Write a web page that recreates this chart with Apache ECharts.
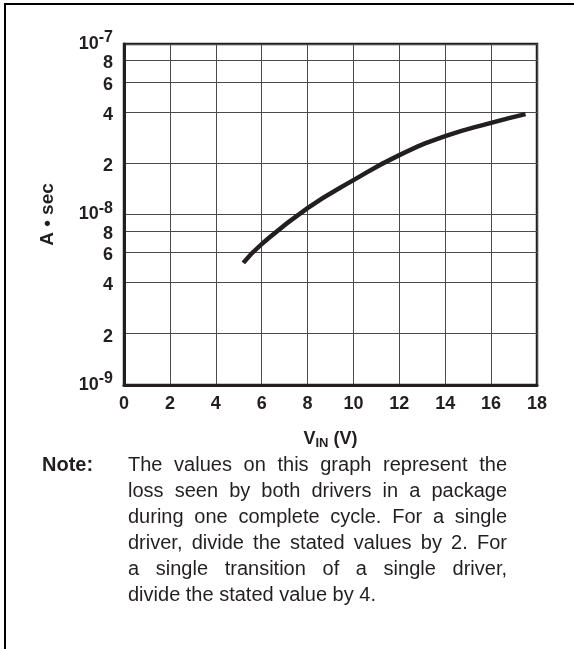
<!DOCTYPE html>
<html><head><meta charset="utf-8">
<script src="https://cdn.jsdelivr.net/npm/echarts@6/dist/echarts.min.js"></script>
<style>html,body{margin:0;padding:0;background:#fff}#c{width:574px;height:649px}</style>
</head><body><div id="c"></div>
<script>
// ---- data ----
const vin = [5.2, 6, 8, 10, 12, 14, 16, 17.5];
const loss = [5.2e-9, 6.7e-9, 1.09e-8, 1.59e-8, 2.23e-8, 2.88e-8, 3.45e-8, 3.88e-8];
const xTicks = [0, 2, 4, 6, 8, 10, 12, 14, 16, 18];
const yTicks = [1e-9, 2e-9, 4e-9, 6e-9, 8e-9, 1e-8, 2e-8, 4e-8, 6e-8, 8e-8, 1e-7];
const yTickLabels = ['10|-9', '2', '4', '6', '8', '10|-8', '2', '4', '6', '8', '10|-7'];
const noteLabel = 'Note:';
const noteLines = [
  'The values on this graph represent the',
  'loss seen by both drivers in a package',
  'during one complete cycle. For a single',
  'driver, divide the stated values by 2. For',
  'a single transition of a single driver,',
  'divide the stated value by 4.'
];

const FONT = "'Liberation Sans', Arial, Helvetica, sans-serif";
const INK = '#231f20';

function yLabel(v) {
  let lv = v > 0 && v < 1 ? Math.log10(v) : v;
  let best = 0, bd = Infinity;
  yTicks.forEach((t, i) => { const d = Math.abs(Math.log10(t) - lv); if (d < bd) { bd = d; best = i; } });
  const s = yTickLabels[best];
  if (s.indexOf('|') >= 0) {
    const p = s.split('|');
    return '{b|' + p[0] + '}{s|' + p[1] + '}';
  }
  return '{n|' + s + '}';
}

const chart = echarts.init(document.getElementById('c'), null, { renderer: 'canvas' });

// justified note text via graphic elements
const cv = document.createElement('canvas').getContext('2d');
const noteSize = 20;
cv.font = noteSize + 'px ' + FONT;
const textLeft = 128, textRight = 507, lineY0 = 465, lineGap = 26;
const graphics = [];
noteLines.forEach((line, li) => {
  const words = line.split(' ');
  const widths = words.map(w => cv.measureText(w).width);
  const total = widths.reduce((a, b) => a + b, 0);
  const last = li === noteLines.length - 1;
  const gap = last ? cv.measureText(' ').width : (textRight - textLeft - total) / (words.length - 1);
  let x = textLeft;
  words.forEach((w, wi) => {
    graphics.push({ type: 'text', x: x, y: lineY0 + li * lineGap, style: { text: w, font: noteSize + 'px ' + FONT, fill: INK, verticalAlign: 'middle', align: 'left' } });
    x += widths[wi] + gap;
  });
});
graphics.push({ type: 'text', x: 42, y: lineY0, style: { text: noteLabel, font: 'bold ' + noteSize + 'px ' + FONT, fill: INK, verticalAlign: 'middle', align: 'left' } });
// outer frame (left and top edges)
graphics.push({ type: 'line', shape: { x1: 5, y1: 3, x2: 5, y2: 649 }, style: { stroke: '#000', lineWidth: 2 } });
graphics.push({ type: 'line', shape: { x1: 4, y1: 4, x2: 574, y2: 4 }, style: { stroke: '#000', lineWidth: 2 } });

const option = {
  animation: false,
  backgroundColor: '#fff',
  grid: { left: 124, top: 44, right: 37, bottom: 264, show: true, borderColor: INK, borderWidth: 2.5, backgroundColor: 'transparent' },
  xAxis: {
    type: 'value', min: 0, max: 18, interval: 2,
    axisLine: { show: true, lineStyle: { color: INK, width: 3 } },
    axisTick: { show: false },
    splitLine: { show: true, lineStyle: { color: '#4a4a4a', width: 1 } },
    axisLabel: { margin: 10, color: INK, fontFamily: FONT, fontWeight: 'bold', fontSize: 18, customValues: xTicks },
    name: '{v|V}{sub|IN}{v| (V)}', nameLocation: 'middle', nameGap: 43,
    nameTextStyle: { rich: {
      v: { fontFamily: FONT, fontWeight: 'bold', fontSize: 18, color: INK, lineHeight: 22 },
      sub: { fontFamily: FONT, fontWeight: 'bold', fontSize: 13, color: INK, verticalAlign: 'bottom', lineHeight: 14 }
    } }
  },
  yAxis: {
    type: 'log', logBase: 10, min: 1e-9, max: 1e-7,
    axisLine: { show: true, lineStyle: { color: INK, width: 3 } },
    axisTick: { show: false, customValues: yTicks },
    splitLine: { show: true, lineStyle: { color: '#4a4a4a', width: 1 } },
    axisLabel: {
      margin: 11, color: INK, customValues: yTicks, formatter: yLabel,
      rich: {
        b: { fontFamily: FONT, fontWeight: 'bold', fontSize: 18, color: INK, lineHeight: 28 },
        s: { fontFamily: FONT, fontWeight: 'bold', fontSize: 16, color: INK, verticalAlign: 'top', lineHeight: 16 },
        n: { fontFamily: FONT, fontWeight: 'bold', fontSize: 18, color: INK, padding: [6, 0, 0, 0] }
      }
    },
    name: 'A • sec', nameLocation: 'middle', nameGap: 67, nameRotate: 90,
    nameTextStyle: { fontFamily: FONT, fontWeight: 'bold', fontSize: 19, color: INK }
  },
  series: [{
    type: 'line', data: vin.map((v, i) => [v, loss[i]]), smooth: 0.5, showSymbol: false,
    lineStyle: { color: INK, width: 4.5, cap: 'butt' }
  }],
  graphic: graphics
};
chart.setOption(option);
</script></body></html>
